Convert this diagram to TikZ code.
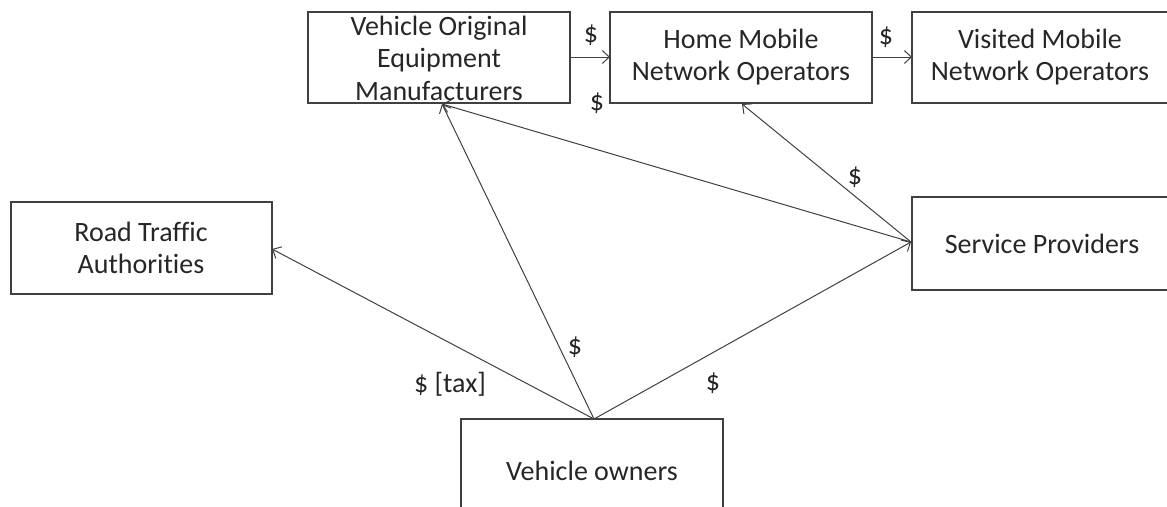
\documentclass[tikz,border=0pt]{standalone}
\usepackage{fontspec}
\setmainfont{Carlito}[Ligatures={NoCommon}]
\usetikzlibrary{arrows.meta}
\begin{document}
\begin{tikzpicture}[x=1pt,y=-1pt,
  every node/.style={font=\fontsize{28}{32.5}\selectfont, text=black!85},
  actor/.style={draw=black!75, line width=1.2pt},
  flow/.style={draw=black!75, line width=1pt, -{Straight Barb[length=7pt,width=13pt,line width=1pt]}},
  money/.style={inner sep=0pt}]
\useasboundingbox (0,0) rectangle (1167,506);
\clip (0,0) rectangle (1167,506);
% boxes
\draw[actor] (308,12) rectangle (570,103);
\node[align=center] (voem) at (439,58) {Vehicle Original\\Equipment\\Manufacturers};
\draw[actor] (610,12) rectangle (872,103);
\node[align=center] (hmno) at (741,57) {Home Mobile\\Network Operators};
\draw[actor] (912,12) rectangle (1190,103);
\node[align=center] (vmno) at (1040,57) {Visited Mobile\\Network Operators};
\draw[actor] (11,202) rectangle (272,294);
\node[align=center] (rta) at (141,248) {Road Traffic\\Authorities};
\draw[actor] (912,197) rectangle (1190,290);
\node (sp) at (1042,244) {Service Providers};
\draw[actor] (461,419) rectangle (723,530);
\node (vo) at (592,471) {Vehicle owners};
% attachment points on the box edges
\coordinate (voemR) at (570,57);
\coordinate (hmnoL) at (610,57);
\coordinate (hmnoR) at (872,57);
\coordinate (vmnoL) at (912,57);
\coordinate (voemB) at (442,104);
\coordinate (hmnoB) at (742,104);
\coordinate (rtaR) at (272,249);
\coordinate (spL) at (911,242);
\coordinate (voT) at (594,419);
% money flows
\draw[flow] (voemR) -- (hmnoL);
\draw[flow] (hmnoR) -- (vmnoL);
\draw[flow] (voT) -- (rtaR);
\draw[flow] (voT) -- (voemB);
\draw[flow] (voT) -- (spL);
\draw[flow] (spL) -- (voemB);
\draw[flow] (spL) -- (hmnoB);
% labels
\node[money] (l1) at (591,35) {\$};
\node[money] (l2) at (886,37) {\$};
\node[money] (l3) at (597,103) {\$};
\node[money] (l4) at (855,177) {\$};
\node[money] (l5) at (575,347) {\$};
\node[money] (l6) at (450,384) {\$ [tax]};
\node[money] (l7) at (713,383) {\$};
\end{tikzpicture}
\end{document}
